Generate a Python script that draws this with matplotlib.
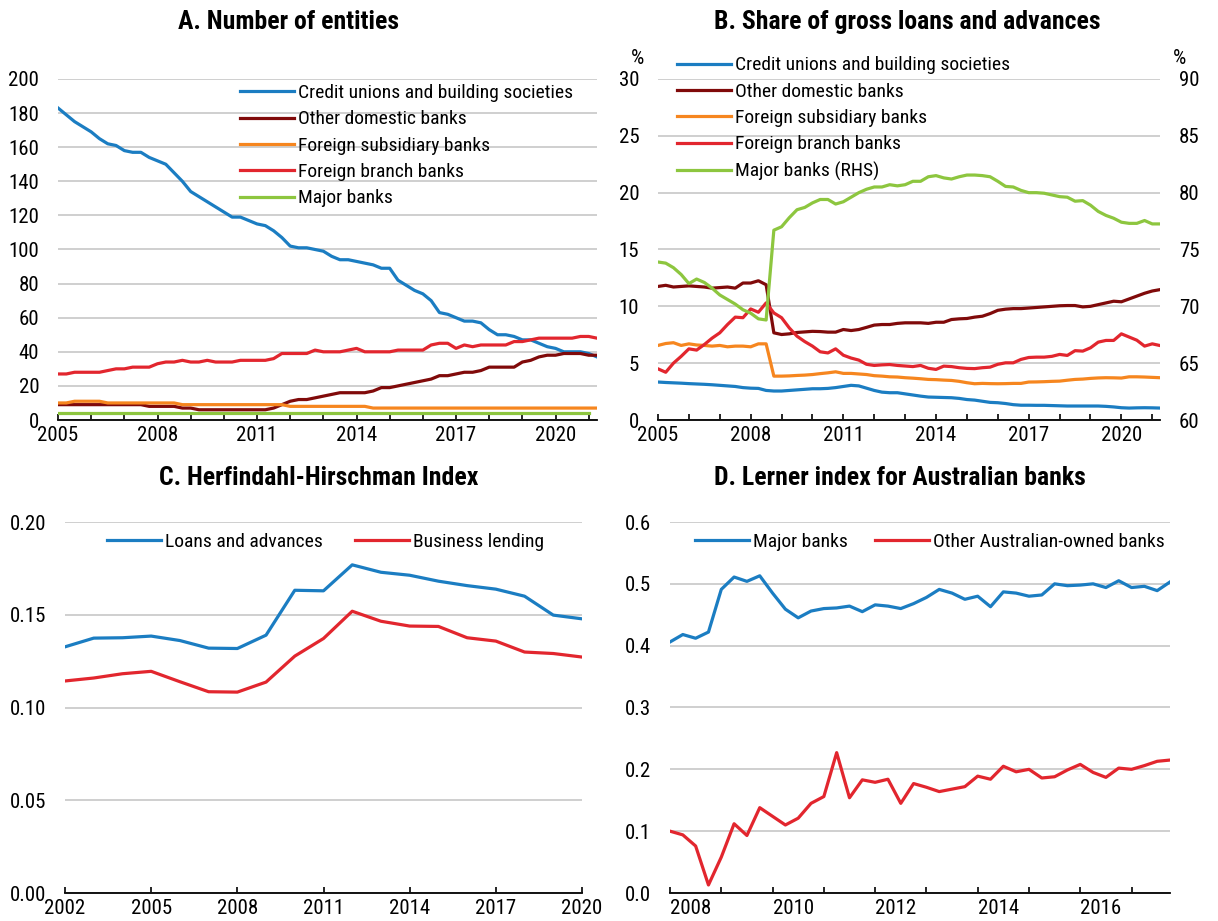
import numpy as np
import matplotlib
matplotlib.use('Agg')
import matplotlib.pyplot as plt
from matplotlib import font_manager
from matplotlib.ticker import MultipleLocator, FixedLocator, NullFormatter, FixedFormatter, FormatStrFormatter

# pick a condensed face if one is installed, otherwise plain Liberation Sans
installed = {f.name for f in font_manager.fontManager.ttflist}
narrow = None
for cand in ['Liberation Sans Narrow', 'Arial Narrow', 'Roboto Condensed', 'DejaVu Sans Condensed',
             'Open Sans Condensed', 'Noto Sans Condensed', 'Noto Sans Display Condensed']:
    if cand in installed:
        narrow = cand
        break
if narrow:
    plt.rcParams['font.family'] = [narrow, 'DejaVu Sans']
    TICK_FS, LEG_FS, TITLE_FS = 15, 14, 18.5
else:
    plt.rcParams['font.family'] = ['Liberation Sans', 'DejaVu Sans']
    TICK_FS, LEG_FS, TITLE_FS = 13, 11.5, 15.5

BLUE = '#1b7dc2'
DARKRED = '#800a0a'
ORANGE = '#f6861f'
RED = '#e2262e'
GREEN = '#8dc63f'
GRID = '#cccccc'

# Panel A: number of entities, quarterly from 2005Q1
a_start = 2005
a_credit_unions = [183, 179, 175, 172, 169, 165, 162, 161, 158, 157, 157, 154, 152, 150, 145, 140,
                   134, 131, 128, 125, 122, 119, 119, 117, 115, 114, 111, 107, 102, 101, 101, 100,
                   99, 96, 94, 94, 93, 92, 91, 89, 89, 82, 79, 76, 74, 70, 63, 62, 60, 58, 58, 57,
                   53, 50, 50, 49, 47, 47, 45, 43, 42, 40, 40, 40, 39, 37]
a_other_domestic = [9, 9, 9, 9, 9, 9, 9, 9, 9, 9, 9, 8, 8, 8, 8, 7, 7, 6, 6, 6, 6, 6, 6, 6, 6, 6,
                    7, 9, 11, 12, 12, 13, 14, 15, 16, 16, 16, 16, 17, 19, 19, 20, 21, 22, 23, 24,
                    26, 26, 27, 28, 28, 29, 31, 31, 31, 31, 34, 35, 37, 38, 38, 39, 39, 39, 38, 38]
a_foreign_sub = [10, 10, 11, 11, 11, 11, 10, 10, 10, 10, 10, 10, 10, 10, 10, 9, 9, 9, 9, 9, 9, 9,
                 9, 9, 9, 9, 9, 9, 8, 8, 8, 8, 8, 8, 8, 8, 8, 8, 7, 7, 7, 7, 7, 7, 7, 7, 7, 7, 7,
                 7, 7, 7, 7, 7, 7, 7, 7, 7, 7, 7, 7, 7, 7, 7, 7, 7]
a_foreign_branch = [27, 27, 28, 28, 28, 28, 29, 30, 30, 31, 31, 31, 33, 34, 34, 35, 34, 34, 35, 34,
                    34, 34, 35, 35, 35, 35, 36, 39, 39, 39, 39, 41, 40, 40, 40, 41, 42, 40, 40, 40,
                    40, 41, 41, 41, 41, 44, 45, 45, 42, 44, 43, 44, 44, 44, 44, 46, 46, 47, 48, 48,
                    48, 48, 48, 49, 49, 48]
a_major = [4] * 65
a_labels = ['Credit unions and building societies', 'Other domestic banks',
            'Foreign subsidiary banks', 'Foreign branch banks', 'Major banks']
a_xticks = [2005, 2008, 2011, 2014, 2017, 2020]

# Panel B: share of gross loans and advances (%), quarterly from 2005Q1
b_start = 2005
b_credit_unions = [3.34, 3.30, 3.27, 3.24, 3.20, 3.17, 3.14, 3.10, 3.05, 3.00, 2.95, 2.85, 2.80, 2.78,
                   2.60, 2.55, 2.55, 2.60, 2.65, 2.70, 2.75, 2.75, 2.78, 2.85, 2.95, 3.05, 3.00, 2.80,
                   2.60, 2.45, 2.40, 2.40, 2.30, 2.20, 2.10, 2.02, 2.00, 1.98, 1.96, 1.90, 1.80, 1.75,
                   1.65, 1.55, 1.52, 1.45, 1.35, 1.30, 1.30, 1.29, 1.29, 1.27, 1.25, 1.23, 1.23, 1.23,
                   1.23, 1.23, 1.20, 1.15, 1.08, 1.05, 1.07, 1.08, 1.07, 1.05]
b_other_domestic = [11.75, 11.85, 11.7, 11.75, 11.8, 11.75, 11.7, 11.6, 11.65, 11.7, 11.6, 12.05,
                    12.05, 12.25, 11.9, 7.67, 7.52, 7.58, 7.7, 7.75, 7.8, 7.78, 7.73, 7.73, 7.96,
                    7.87, 7.96, 8.15, 8.35, 8.4, 8.4, 8.5, 8.55, 8.55, 8.55, 8.5, 8.6, 8.6, 8.84,
                    8.9, 8.93, 9.05, 9.13, 9.36, 9.65, 9.75, 9.8, 9.8, 9.85, 9.9, 9.95, 10.0, 10.05,
                    10.07, 10.07, 9.95, 10.0, 10.15, 10.3, 10.45, 10.4, 10.65, 10.9, 11.15, 11.35,
                    11.47]
b_foreign_sub = [6.56, 6.73, 6.8, 6.56, 6.7, 6.6, 6.56, 6.5, 6.56, 6.44, 6.5, 6.5, 6.44, 6.7, 6.7,
                 3.86, 3.86, 3.88, 3.92, 3.95, 4.0, 4.08, 4.15, 4.24, 4.1, 4.1, 4.05, 4.0, 3.9, 3.86,
                 3.8, 3.78, 3.72, 3.68, 3.63, 3.57, 3.55, 3.51, 3.48, 3.4, 3.28, 3.19, 3.22, 3.2,
                 3.19, 3.2, 3.22, 3.22, 3.34, 3.35, 3.37, 3.4, 3.42, 3.5, 3.57, 3.6, 3.66, 3.7,
                 3.72, 3.71, 3.69, 3.8, 3.8, 3.78, 3.75, 3.72]
b_foreign_branch = [4.5, 4.2, 5.0, 5.6, 6.26, 6.15, 6.64, 7.2, 7.67, 8.4, 9.05, 9.0, 9.77, 9.48, 10.3,
                    9.42, 9.0, 8.1, 7.37, 6.9, 6.5, 6.0, 5.9, 6.26, 5.7, 5.45, 5.27, 4.9, 4.8, 4.85,
                    4.88, 4.8, 4.75, 4.7, 4.8, 4.55, 4.45, 4.74, 4.7, 4.6, 4.54, 4.52, 4.6, 4.65,
                    4.9, 5.03, 5.03, 5.33, 5.5, 5.53, 5.53, 5.6, 5.77, 5.68, 6.1, 6.06, 6.35, 6.85,
                    7.0, 7.0, 7.58, 7.3, 7.02, 6.5, 6.7, 6.55]
b_major_rhs = [73.9, 73.8, 73.4, 72.8, 72.0, 72.4, 72.1, 71.6, 71.0, 70.6, 70.2, 69.7, 69.4, 68.9,
               68.8, 76.7, 77.0, 77.8, 78.5, 78.7, 79.1, 79.4, 79.4, 79.0, 79.2, 79.6, 80.0, 80.3,
               80.5, 80.5, 80.7, 80.6, 80.7, 81.0, 81.0, 81.4, 81.5, 81.3, 81.2, 81.4, 81.55, 81.55,
               81.5, 81.4, 81.0, 80.55, 80.5, 80.2, 80.0, 80.0, 79.95, 79.8, 79.65, 79.6, 79.25,
               79.3, 78.9, 78.35, 78.0, 77.75, 77.4, 77.3, 77.3, 77.55, 77.25, 77.25]
b_labels = ['Credit unions and building societies', 'Other domestic banks',
            'Foreign subsidiary banks', 'Foreign branch banks', 'Major banks (RHS)']

# Panel C: Herfindahl-Hirschman index, annual
c_years = list(range(2002, 2021))
c_loans = [0.1327, 0.1374, 0.1376, 0.1385, 0.1361, 0.1320, 0.1318, 0.1390, 0.1632, 0.1629,
           0.1769, 0.1729, 0.1713, 0.1681, 0.1657, 0.1638, 0.1600, 0.1498, 0.1478]
c_business = [0.1143, 0.1159, 0.1182, 0.1195, 0.1139, 0.1085, 0.1083, 0.1137, 0.1277, 0.1372,
              0.1519, 0.1465, 0.1439, 0.1437, 0.1376, 0.1358, 0.1299, 0.1291, 0.1272]
c_xticks = [2002, 2005, 2008, 2011, 2014, 2017, 2020]

# Panel D: Lerner index, quarterly from 2008Q1
d_start = 2008
d_major = [0.406, 0.418, 0.412, 0.422, 0.491, 0.511, 0.504, 0.513, 0.485, 0.459, 0.445, 0.456,
           0.460, 0.461, 0.464, 0.455, 0.466, 0.464, 0.460, 0.468, 0.478, 0.491, 0.485, 0.475,
           0.480, 0.463, 0.487, 0.485, 0.480, 0.482, 0.500, 0.497, 0.498, 0.500, 0.494, 0.505,
           0.494, 0.496, 0.489, 0.503]
d_other = [0.100, 0.094, 0.076, 0.013, 0.058, 0.112, 0.093, 0.138, 0.124, 0.110, 0.121, 0.145,
           0.156, 0.227, 0.154, 0.183, 0.179, 0.184, 0.145, 0.177, 0.171, 0.164, 0.168, 0.172,
           0.189, 0.184, 0.205, 0.196, 0.200, 0.186, 0.188, 0.199, 0.208, 0.195, 0.187, 0.202,
           0.200, 0.206, 0.213, 0.215]
d_xlabels = ['2008', '2010', '2012', '2014', '2016']

W, H = 1218, 921
fig = plt.figure(figsize=(W / 100, H / 100), dpi=100)

LW = 2.3
fs_px = LEG_FS * 100 / 72
ROWSP = 26 / fs_px - 0.91
HLEN = 54 / fs_px
HPAD = 4 / fs_px


def px_axes(x0, x1, ytop, ybot):
    return fig.add_axes([x0 / W, 1 - ybot / H, (x1 - x0) / W, (ybot - ytop) / H])


def style(ax):
    for s in ['left', 'right', 'top']:
        ax.spines[s].set_visible(False)
    ax.spines['bottom'].set_linewidth(1.3)
    ax.spines['bottom'].set_zorder(5)
    ax.grid(axis='y', color=GRID, linewidth=1.3)
    ax.set_axisbelow(True)
    ax.tick_params(axis='y', length=0, pad=13.5, labelsize=TICK_FS)
    ax.tick_params(axis='x', which='both', direction='in', length=4, width=1.2,
                   pad=4, labelsize=TICK_FS)


def quarters(start, n):
    return start + np.arange(n) / 4.0


# ---- A ----
axA = px_axes(58, 597, 79, 420)
style(axA)
colsA = [BLUE, DARKRED, ORANGE, RED, GREEN]
seriesA = [a_credit_unions, a_other_domestic, a_foreign_sub, a_foreign_branch, a_major]
for s, c, lab in zip(seriesA, colsA, a_labels):
    axA.plot(quarters(a_start, len(s)), s, color=c, lw=LW, label=lab)
axA.set_xlim(2005, 2005 + 65 / 4)
axA.set_ylim(0, 200)
axA.yaxis.set_major_locator(MultipleLocator(20))
axA.xaxis.set_major_locator(FixedLocator(a_xticks))
axA.xaxis.set_minor_locator(MultipleLocator(1))
axA.legend(loc='upper left', bbox_to_anchor=(0.338, 0.985), frameon=False, fontsize=LEG_FS,
           handlelength=HLEN, handletextpad=HPAD, labelspacing=ROWSP, borderpad=0, borderaxespad=0)
fig.text(289 / W, 1 - 22 / H, 'A. Number of entities', ha='center', va='center',
         fontsize=TITLE_FS, fontweight='bold')

# ---- B ----
axB = px_axes(658, 1160, 79, 420)
style(axB)
axB2 = axB.twinx()
for s in ['left', 'right', 'top', 'bottom']:
    axB2.spines[s].set_visible(False)
seriesB = [b_credit_unions, b_other_domestic, b_foreign_sub, b_foreign_branch]
handles = []
for s, c, lab in zip(seriesB, colsA[:4], b_labels[:4]):
    h, = axB.plot(quarters(b_start, len(s)), s, color=c, lw=LW, label=lab)
    handles.append(h)
h, = axB2.plot(quarters(b_start, len(b_major_rhs)), b_major_rhs, color=GREEN, lw=LW,
               label=b_labels[4])
handles.append(h)
axB.set_xlim(2005, 2005 + 65 / 4)
axB.set_ylim(0, 30)
axB2.set_ylim(60, 90)
axB.yaxis.set_major_locator(MultipleLocator(5))
axB2.yaxis.set_major_locator(MultipleLocator(5))
axB2.tick_params(axis='y', length=0, pad=13.5, labelsize=TICK_FS)
axB.xaxis.set_major_locator(FixedLocator(a_xticks))
axB.xaxis.set_minor_locator(MultipleLocator(1))
axB2.legend(handles=handles, loc='upper left', bbox_to_anchor=(0.038, 1.066), frameon=False,
            fontsize=LEG_FS, handlelength=HLEN, handletextpad=HPAD, labelspacing=ROWSP,
            borderpad=0, borderaxespad=0)
fig.text(644 / W, 1 - 58 / H, '%', ha='right', va='center', fontsize=TICK_FS)
fig.text(1173 / W, 1 - 58 / H, '%', ha='left', va='center', fontsize=TICK_FS)
fig.text(907 / W, 1 - 22 / H, 'B. Share of gross loans and advances', ha='center',
         va='center', fontsize=TITLE_FS, fontweight='bold')

# ---- C ----
axC = px_axes(65, 582, 522, 893)
style(axC)
axC.plot(c_years, c_loans, color=BLUE, lw=LW, label='Loans and advances')
axC.plot(c_years, c_business, color=RED, lw=LW, label='Business lending')
axC.set_xlim(2002, 2020)
axC.set_ylim(0, 0.2)
axC.yaxis.set_major_locator(MultipleLocator(0.05))
axC.yaxis.set_major_formatter(FormatStrFormatter('%.2f'))
axC.xaxis.set_major_locator(FixedLocator(c_xticks))
axC.legend(loc='upper left', bbox_to_anchor=(0.081, 0.97), ncol=2, frameon=False,
           fontsize=LEG_FS, handlelength=HLEN, handletextpad=HPAD, columnspacing=32 / fs_px,
           borderpad=0, borderaxespad=0)
fig.text(319 / W, 1 - 478 / H, 'C. Herfindahl-Hirschman Index', ha='center', va='center',
         fontsize=TITLE_FS, fontweight='bold')

# ---- D ----
axD = px_axes(670, 1170, 522, 893)
style(axD)
axD.plot(quarters(d_start, len(d_major)), d_major, color=BLUE, lw=LW, label='Major banks')
axD.plot(quarters(d_start, len(d_other)), d_other, color=RED, lw=LW,
         label='Other Australian-owned banks')
axD.set_xlim(2008, 2008 + 39 / 4)
axD.set_ylim(0, 0.6)
axD.yaxis.set_major_locator(MultipleLocator(0.1))
axD.yaxis.set_major_formatter(FormatStrFormatter('%.1f'))
axD.xaxis.set_major_locator(MultipleLocator(1))
axD.xaxis.set_major_formatter(NullFormatter())
# year labels sit between the yearly ticks
axD.xaxis.set_minor_locator(FixedLocator([int(y) + 0.4 for y in d_xlabels]))
axD.xaxis.set_minor_formatter(FixedFormatter(d_xlabels))
axD.tick_params(axis='x', which='minor', length=0, pad=4)
axD.legend(loc='upper left', bbox_to_anchor=(0.05, 0.97), ncol=2, frameon=False,
           fontsize=LEG_FS, handlelength=HLEN, handletextpad=HPAD, columnspacing=27 / fs_px,
           borderpad=0, borderaxespad=0)
fig.text(900 / W, 1 - 478 / H, 'D. Lerner index for Australian banks', ha='center',
         va='center', fontsize=TITLE_FS, fontweight='bold')

fig.savefig('out.png', dpi=100)
